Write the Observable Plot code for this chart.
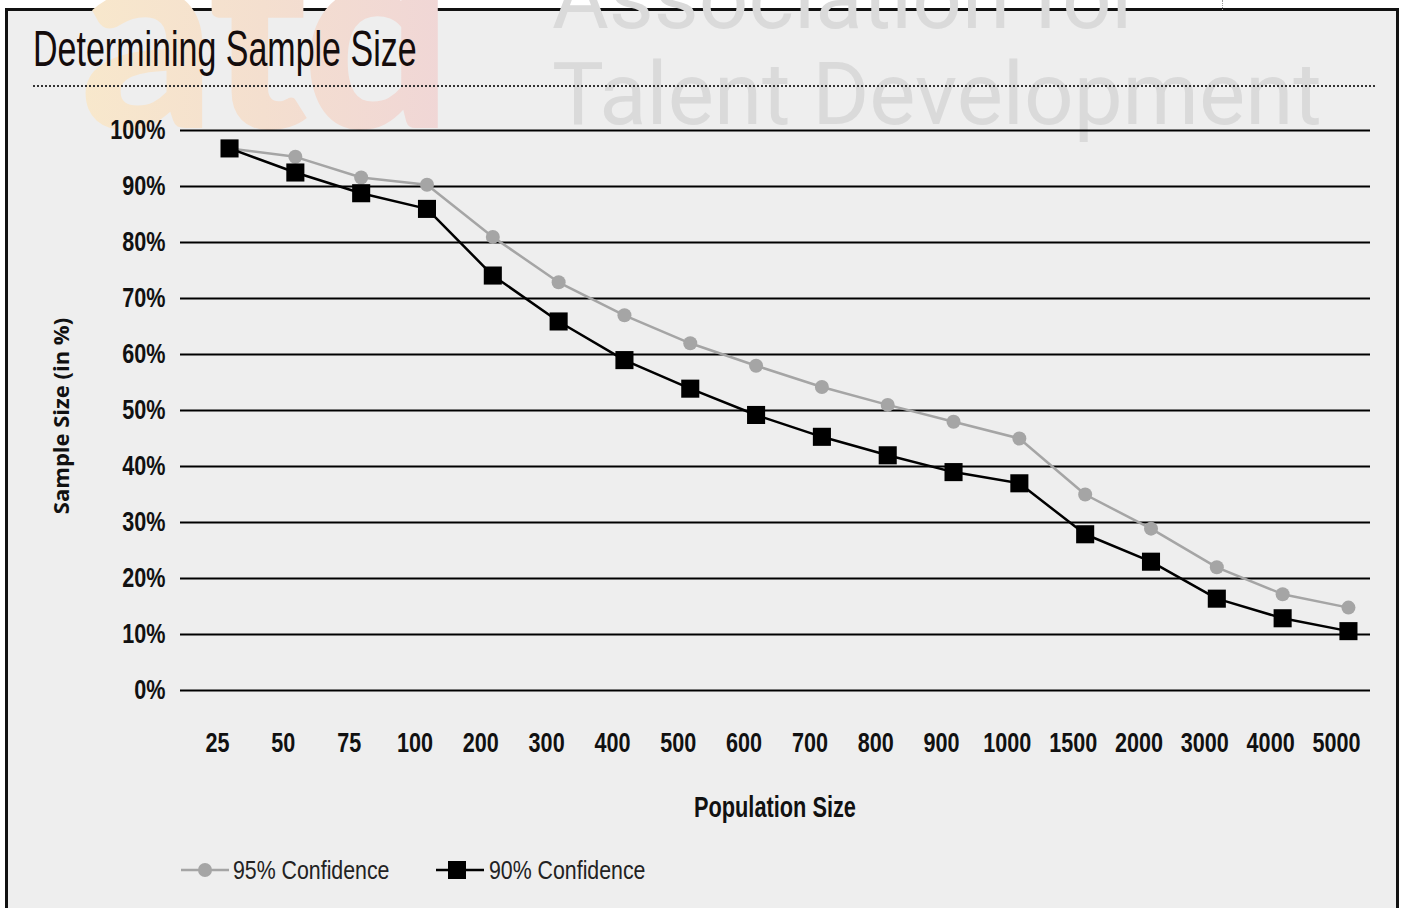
<!DOCTYPE html>
<html>
<head>
<meta charset="utf-8">
<script src="https://cdn.jsdelivr.net/npm/d3@7"></script>
<script src="https://cdn.jsdelivr.net/npm/@observablehq/plot@0.6"></script>
<style>
  html, body { margin: 0; padding: 0; background: #fff; }
  #wrap { position: relative; width: 1405px; height: 908px; overflow: hidden; background: #fff; }
  #frame { position: absolute; left: 5px; top: 8px; width: 1394px; height: 1000px; border: 3px solid #111; background: #eeeeee; box-sizing: border-box; }
  #logo { position: absolute; left: 0; top: 0; }
  .wm { position: absolute; font-family: Roboto, sans-serif; font-size: 88px; color: #dadada; white-space: nowrap; line-height: 1; transform: scaleX(0.99); transform-origin: 0 0; }
  #title { position: absolute; left: 33px; top: 24px; font-family: "Liberation Sans", Arial, sans-serif; font-size: 50px; line-height: 50px; color: #140c0c; white-space: nowrap; transform: scaleX(0.68); transform-origin: 0 0; }
  #dots { position: absolute; left: 33px; top: 85px; width: 1342px; border-top: 2px dotted #333; }
  #tick { position: absolute; left: 1222px; top: 0; height: 10px; border-left: 1px dotted #999; }
  #chart { position: absolute; left: 0; top: 0; }
  #ytitle { position: absolute; left: -90px; top: 401px; width: 300px; height: 30px; line-height: 30px; text-align: center; font-family: "Open Sans", sans-serif; font-weight: bold; font-size: 22px; color: #111; transform: rotate(-90deg); transform-origin: 150px 15px; white-space: nowrap; }
  #xtitle { position: absolute; left: 0; top: 789px; width: 1550px; text-align: center; line-height: 36px; height: 36px; }
  #xtitle span { display: inline-block; font-family: "Liberation Sans", Arial, sans-serif; font-weight: bold; font-size: 29px; color: #111; transform: scaleX(0.75); transform-origin: 50% 50%; white-space: nowrap; }
  .leg { position: absolute; top: 852px; height: 36px; }
  .legtext { position: absolute; top: 852px; height: 36px; line-height: 36px; font-family: "Liberation Sans", Arial, sans-serif; font-size: 26px; color: #222; transform: scaleX(0.82); transform-origin: 0 50%; white-space: nowrap; }
</style>
</head>
<body>
<div id="wrap">
  <div id="frame"></div>
  <svg id="logo" width="520" height="134">
    <defs>
      <linearGradient id="lg" x1="0" x2="1" y1="0" y2="0">
        <stop offset="0" stop-color="#f8e8cc"/>
        <stop offset="0.5" stop-color="#f4dfcf"/>
        <stop offset="1" stop-color="#f0d6d6"/>
      </linearGradient>
    </defs>
    <text x="80" y="128" font-family="Lato, 'Open Sans', sans-serif" font-weight="900" font-size="265" fill="url(#lg)" letter-spacing="-6">atd</text>
  </svg>
  <div class="wm" style="left:552px; top:-46px;">Association for</div>
  <div class="wm" style="left:552px; top:50px;">Talent Development</div>
  <div id="tick"></div>
  <div id="title">Determining Sample Size</div>
  <div id="dots"></div>
  <div id="chart"></div>
  <div id="ytitle"></div>
  <div id="xtitle"><span></span></div>
  <svg class="leg" style="left:181px" width="50" height="36"><line x1="0" x2="48" y1="18" y2="18" stroke="#a5a5a5" stroke-width="2.5"/><circle cx="24" cy="18" r="7" fill="#a5a5a5"/></svg>
  <div class="legtext" id="leg1" style="left:233px"></div>
  <svg class="leg" style="left:436px" width="50" height="36"><line x1="0" x2="48" y1="18" y2="18" stroke="#000" stroke-width="2.5"/><rect x="12" y="9" width="18" height="18" fill="#000"/></svg>
  <div class="legtext" id="leg2" style="left:489px"></div>
</div>
<script>
// Data
const populationLabels = ["25","50","75","100","200","300","400","500","600","700","800","900","1000","1500","2000","3000","4000","5000"];
const conf95 = [96.8, 95.3, 91.6, 90.3, 81.0, 72.9, 67.0, 62.0, 58.0, 54.2, 51.0, 48.0, 45.0, 35.0, 28.9, 22.0, 17.2, 14.8];
const conf90 = [96.8, 92.5, 88.8, 86.0, 74.1, 65.9, 59.0, 53.9, 49.2, 45.3, 42.0, 39.0, 37.0, 27.9, 23.0, 16.4, 12.9, 10.6];
const seriesNames = ["95% Confidence", "90% Confidence"];
const yTicks = [0, 10, 20, 30, 40, 50, 60, 70, 80, 90, 100];
const yTitle = "Sample Size (in %)";
const xTitle = "Population Size";

document.getElementById("ytitle").textContent = yTitle;
document.querySelector("#xtitle span").textContent = xTitle;
document.getElementById("leg1").textContent = seriesNames[0];
document.getElementById("leg2").textContent = seriesNames[1];

const rows = populationLabels.map((label, i) => ({i, label, v95: conf95[i], v90: conf90[i]}));

const chart = Plot.plot({
  width: 1405,
  height: 908,
  marginLeft: 180,
  marginRight: 35,
  marginTop: 130,
  marginBottom: 218,
  style: {background: "transparent", fontFamily: "'Liberation Sans', Arial, sans-serif", color: "#111", overflow: "visible"},
  x: {domain: [-0.745, 17.335], axis: null},
  y: {domain: [0, 100], axis: null},
  marks: [
    Plot.ruleY(yTicks, {stroke: "#000", strokeWidth: 2}),
    Plot.axisY(yTicks, {tickSize: 0, tickPadding: 15, tickFormat: d => d + "%", fontSize: 27, fontWeight: "bold", fill: "#111", label: null}),
    Plot.axisX(d3.range(populationLabels.length), {tickSize: 0, tickPadding: 42, tickFormat: i => populationLabels[i], dx: -12, fontSize: 27, fontWeight: "bold", fill: "#111", label: null}),
    Plot.line(rows, {x: "i", y: "v95", stroke: "#a5a5a5", strokeWidth: 2.5}),
    Plot.dot(rows, {x: "i", y: "v95", r: 7, fill: "#a5a5a5", stroke: "none"}),
    Plot.line(rows, {x: "i", y: "v90", stroke: "#000", strokeWidth: 2.5}),
    Plot.dot(rows, {x: "i", y: "v90", symbol: "square", r: 10.2, fill: "#000", stroke: "none"})
  ]
});
// condense the tick label glyphs horizontally (reference uses a condensed bold face)
chart.querySelectorAll('g[aria-label="x-axis tick label"] text, g[aria-label="y-axis tick label"] text').forEach(t => {
  const tr = t.getAttribute("transform");
  if (tr) t.setAttribute("transform", tr + " scale(0.8,1)");
  else {
    const x = t.getAttribute("x") || 0, y = t.getAttribute("y") || 0;
    t.removeAttribute("x"); t.removeAttribute("y");
    t.setAttribute("transform", `translate(${x},${y}) scale(0.8,1)`);
  }
});
document.getElementById("chart").appendChild(chart);
</script>
</body>
</html>
